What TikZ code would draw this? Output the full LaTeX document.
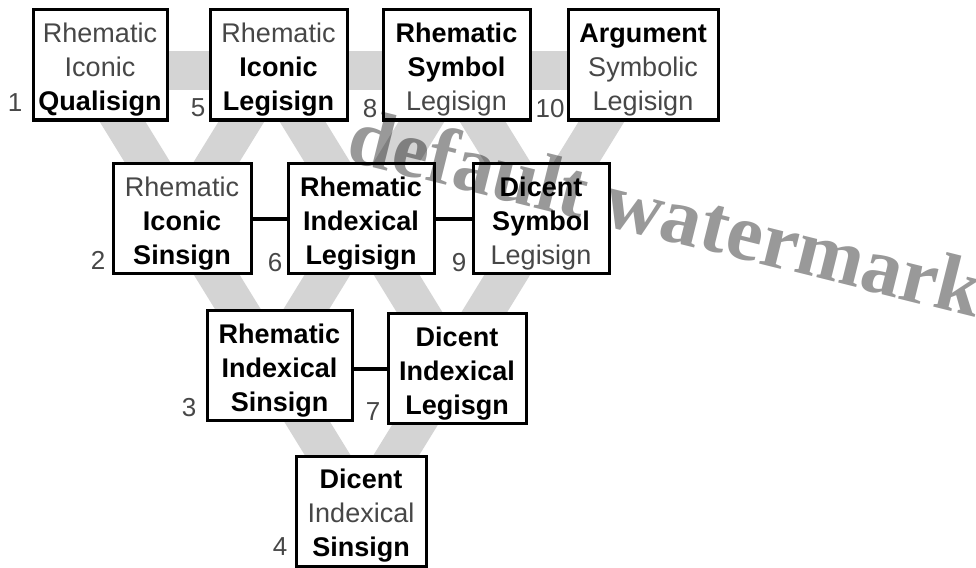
\documentclass[tikz,border=0pt]{standalone}
\usepackage{fontspec}
\setmainfont{Liberation Sans}
\newfontfamily\wmfont{Liberation Serif}
\definecolor{band}{gray}{0.83}
\definecolor{soft}{gray}{0.28}
\newcommand{\TopS}{\rule{0pt}{31pt}}
\newcommand{\BotS}{\rule[-8pt]{0pt}{8pt}}
\newcommand{\R}[1]{\textcolor{soft}{#1}}
\newcommand{\B}[1]{\textbf{#1}}
\tikzset{
  sign/.style={draw, line width=3pt, fill=white, inner sep=0pt, align=center,
    minimum height=110pt, font=\fontsize{27}{34}\selectfont},
  num/.style={text=soft, inner sep=0pt, font=\fontsize{26}{30}\selectfont},
  bandline/.style={draw=band, line width=39pt, line cap=butt},
  link/.style={draw=black, line width=4pt},
  wmark/.style={text=black, text opacity=0.4, inner sep=0pt,
    font=\wmfont\bfseries\fontsize{81}{90}\selectfont}
}
\begin{document}
\begin{tikzpicture}[x=1pt, y=-1pt]
\useasboundingbox (0,0) rectangle (976,567);
% lattice coordinates for the grey bands
\coordinate (p01) at (92,72);
\coordinate (p02) at (272,72);
\coordinate (p03) at (452,72);
\coordinate (p04) at (632,72);
\coordinate (p11) at (182,218);
\coordinate (p12) at (362,218);
\coordinate (p13) at (542,218);
\coordinate (p21) at (272,365);
\coordinate (p22) at (452,365);
\coordinate (p31) at (362,511);
\coordinate (hL) at (100,70.5);
\coordinate (hR) at (643,70.5);
% grey bands
\draw[bandline] (hL) -- (hR);
\draw[bandline] (p01) -- (p31);
\draw[bandline] (p02) -- (p22);
\draw[bandline] (p03) -- (p13);
\draw[bandline] (p04) -- (p31);
\draw[bandline] (p03) -- (p21);
\draw[bandline] (p02) -- (p11);
% boxes
\node[sign, minimum width=134pt] (b1) at (100,65) {\R{Rhematic}\TopS\\\R{Iconic}\\\B{Qualisign}\BotS};
\node[sign, minimum width=137pt] (b5) at (278.5,65) {\R{Rhematic}\TopS\\\B{Iconic}\\\B{Legisign}\BotS};
\node[sign, minimum width=147pt] (b8) at (456.5,65) {\B{Rhematic}\TopS\\\B{Symbol}\\\R{Legisign}\BotS};
\node[sign, minimum width=150pt] (b10) at (643,65) {\B{Argument}\TopS\\\R{Symbolic}\\\R{Legisign}\BotS};
\node[sign, minimum width=138pt] (b2) at (182,218.5) {\R{Rhematic}\TopS\\\B{Iconic}\\\B{Sinsign}\BotS};
\node[sign, minimum width=146pt] (b6) at (361,218.5) {\B{Rhematic}\TopS\\\B{Indexical}\\\B{Legisign}\BotS};
\node[sign, minimum width=136pt] (b9) at (541,218.5) {\B{Dicent}\TopS\\\B{Symbol}\\\R{Legisign}\BotS};
\node[sign, minimum width=145pt] (b3) at (279.5,365.5) {\B{Rhematic}\TopS\\\B{Indexical}\\\B{Sinsign}\BotS};
\node[sign, minimum width=138pt] (b7) at (457,368.5) {\B{Dicent}\TopS\\\B{Indexical}\\\B{Legisgn}\BotS};
\node[sign, minimum width=130pt] (b4) at (361,511) {\B{Dicent}\TopS\\\R{Indexical}\\\B{Sinsign}\BotS};
% black links
\draw[link] (b2.east) -- (b6.west);
\draw[link] (b6.east) -- (b9.west);
\draw[link] (b7.west) -- (b7.west -| b3.east);
% numbers
\node[num] (n1) at (15,103) {1};
\node[num] (n5) at (198,108) {5};
\node[num] (n8) at (370,109) {8};
\node[num] (n10) at (550,109) {10};
\node[num] (n2) at (98,260) {2};
\node[num] (n6) at (275,263) {6};
\node[num] (n9) at (459,263) {9};
\node[num] (n3) at (189,408) {3};
\node[num] (n7) at (373,412) {7};
\node[num] (n4) at (280,547) {4};
% watermark
\node[wmark, rotate=-14, anchor=base] (wm) at (660,239) {default watermark};
\end{tikzpicture}
\end{document}
